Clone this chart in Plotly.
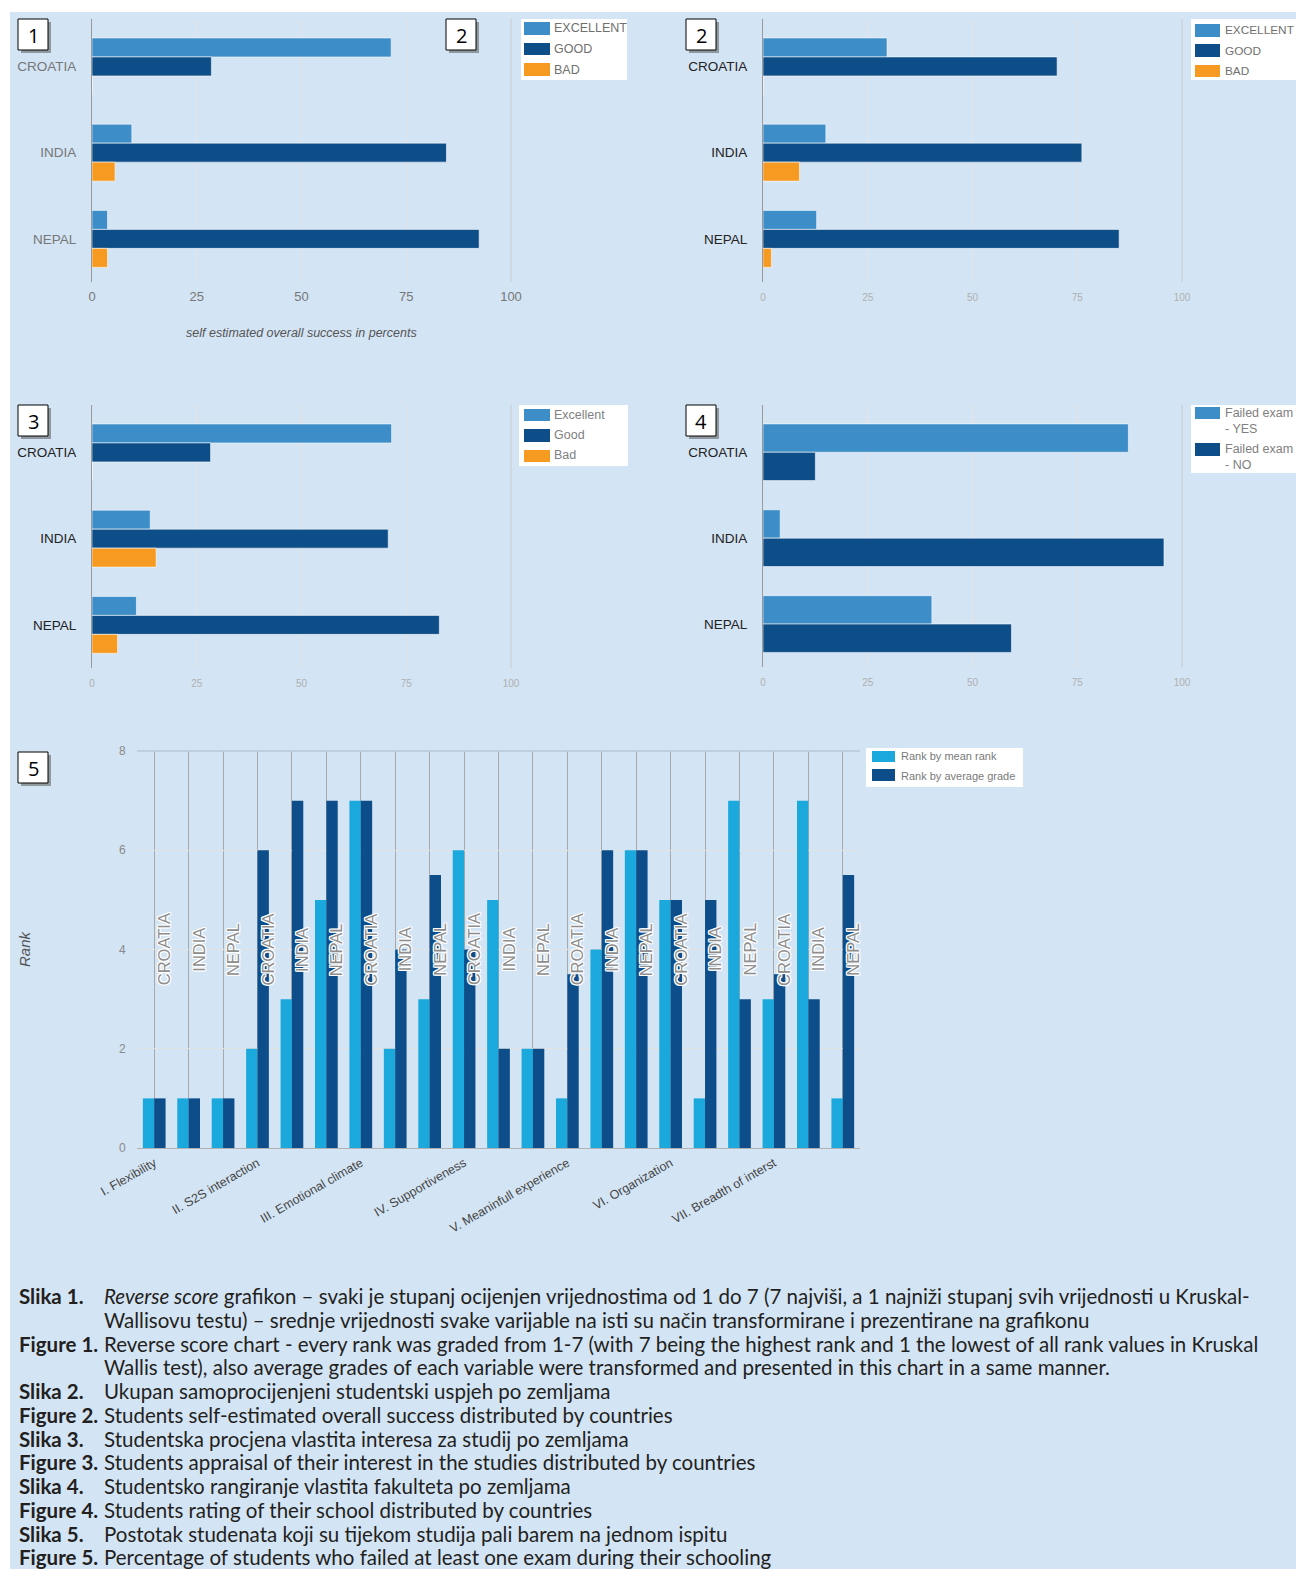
import plotly.graph_objects as go

W, H = 1296, 1569

# ---------------- DATA ----------------
countries = ["CROATIA", "INDIA", "NEPAL"]

p1_names = ["EXCELLENT", "GOOD", "BAD"]
p1_excellent = [71.4, 9.5, 3.7]
p1_good = [28.5, 84.6, 92.4]
p1_bad = [0, 5.5, 3.7]

p2_names = ["EXCELLENT", "GOOD", "BAD"]
p2_excellent = [29.6, 15.0, 12.8]
p2_good = [70.2, 76.1, 85.0]
p2_bad = [0, 8.7, 2.0]

p3_names = ["Excellent", "Good", "Bad"]
p3_excellent = [71.5, 13.9, 10.6]
p3_good = [28.3, 70.7, 82.9]
p3_bad = [0, 15.3, 6.1]

p4_names = ["Failed exam<br>- YES", "Failed exam<br>- NO"]
p4_yes = [87.2, 4.1, 40.3]
p4_no = [12.5, 95.7, 59.3]

pct_ticks = [0, 25, 50, 75, 100]

p5_groups = ["I. Flexibility", "II. S2S interaction", "III. Emotional climate",
             "IV. Supportiveness", "V. Meaninfull experience", "VI. Organization",
             "VII. Breadth of interst"]
p5_countries = countries * 7
p5_names = ["Rank by mean rank", "Rank by average grade"]
rank_mean = [1, 1, 1, 2, 3, 5, 7, 2, 3, 6, 5, 2, 1, 4, 6, 5, 1, 7, 3, 7, 1]
rank_grade = [1, 1, 1, 6, 7, 7, 7, 4, 5.5, 4, 2, 2, 3.5, 6, 6, 5, 5, 3, 3.5, 3, 5.5]
rank_ticks = [0, 2, 4, 6, 8]
label_level = 4

captions = [
    ("Slika 1.", "<i>Reverse score</i> grafikon – svaki je stupanj ocijenjen vrijednostima od 1 do 7 (7 najviši, a 1 najniži stupanj svih vrijednosti u Kruskal-"),
    ("", "Wallisovu testu) – srednje vrijednosti svake varijable na isti su način transformirane i prezentirane na grafikonu"),
    ("Figure 1.", "Reverse score chart - every rank was graded from 1-7 (with 7 being the highest rank and 1 the lowest of all rank values in Kruskal"),
    ("", "Wallis test), also average grades of each variable were transformed and presented in this chart in a same manner."),
    ("Slika 2.", "Ukupan samoprocijenjeni studentski uspjeh po zemljama"),
    ("Figure 2.", "Students self-estimated overall success distributed by countries"),
    ("Slika 3.", "Studentska procjena vlastita interesa za studij po zemljama"),
    ("Figure 3.", "Students appraisal of their interest in the studies distributed by countries"),
    ("Slika 4.", "Studentsko rangiranje vlastita fakulteta po zemljama"),
    ("Figure 4.", "Students rating of their school distributed by countries"),
    ("Slika 5.", "Postotak studenata koji su tijekom studija pali barem na jednom ispitu"),
    ("Figure 5.", "Percentage of students who failed at least one exam during their schooling"),
]

# ---------------- STYLE ----------------
C_EXC = "#3d8dc8"
C_GOOD = "#0d4d88"
C_BAD = "#f79a22"
C_LIGHT = "#1ba8dc"
C_DARK = "#0d4d89"
BG = "#d3e4f4"
FONT = "Liberation Sans, Arial, sans-serif"


def px(x):
    return x / W


def py(y):
    return 1 - y / H


fig = go.Figure()


def hbar(name, vals, color, ax):
    fig.add_trace(go.Bar(
        y=countries, x=vals, name=name, orientation="h",
        marker=dict(color=color, line=dict(color="rgba(255,255,255,0.55)", width=1)),
        xaxis="x" + ax, yaxis="y" + ax, showlegend=False))


hbar(p1_names[0], p1_excellent, C_EXC, "")
hbar(p1_names[1], p1_good, C_GOOD, "")
hbar(p1_names[2], p1_bad, C_BAD, "")
hbar(p2_names[0], p2_excellent, C_EXC, "2")
hbar(p2_names[1], p2_good, C_GOOD, "2")
hbar(p2_names[2], p2_bad, C_BAD, "2")
hbar(p3_names[0], p3_excellent, C_EXC, "3")
hbar(p3_names[1], p3_good, C_GOOD, "3")
hbar(p3_names[2], p3_bad, C_BAD, "3")
hbar(p4_names[0], p4_yes, C_EXC, "4")
hbar(p4_names[1], p4_no, C_GOOD, "4")

xs5 = list(range(len(p5_countries)))
fig.add_trace(go.Bar(x=xs5, y=rank_mean, name=p5_names[0], marker=dict(color=C_LIGHT, line=dict(width=0)),
                     xaxis="x5", yaxis="y5", showlegend=False))
fig.add_trace(go.Bar(x=xs5, y=rank_grade, name=p5_names[1], marker=dict(color=C_DARK, line=dict(width=0)),
                     xaxis="x5", yaxis="y5", showlegend=False))

# ---------------- AXES ----------------
panels = {
    "": (92, 511, 19, 282, "#777777", 13.5, "#777777", 13, 2),
    "2": (763, 1182, 19, 282, "#222222", 13.5, "#b0b0b0", 10, 6),
    "3": (92, 511, 405, 668, "#222222", 13.5, "#b0b0b0", 10, 6),
    "4": (763, 1182, 405, 667, "#222222", 13.5, "#b0b0b0", 10, 6),
}
lay = {}
for ax, (l, r, t, b, ycol, ysz, xcol, xsz, xtl) in panels.items():
    anchor = "y" + ax
    lay["xaxis" + ax] = dict(domain=[px(l), px(r)], anchor=anchor, range=[0, 100], tickvals=pct_ticks,
                             showgrid=True, gridcolor="#e3e3e3", zeroline=False, showline=False,
                             ticks="outside", ticklen=xtl, tickcolor="rgba(0,0,0,0)",
                             tickfont=dict(family=FONT, size=xsz, color=xcol), fixedrange=True)
    lay["yaxis" + ax] = dict(domain=[py(b), py(t)], anchor="x" + ax, type="category",
                             range=[2.5, -0.55], showgrid=False, zeroline=False,
                             showline=True, linecolor="#999999", linewidth=1,
                             ticks="outside", ticklen=12, tickcolor="rgba(0,0,0,0)",
                             tickfont=dict(family=FONT, size=ysz, color=ycol), fixedrange=True)

tt5 = [p5_groups[i // 3] if i % 3 == 0 else "" for i in xs5]
lay["xaxis5"] = dict(domain=[px(137), px(860)], anchor="y5", range=[-0.5, 20.5],
                     tickvals=xs5, ticktext=tt5, tickangle=-30,
                     showgrid=True, gridcolor="#a9a9a9", gridwidth=1, zeroline=False,
                     showline=True, linecolor="#b3b3b3", ticks="outside", ticklen=2,
                     tickcolor="rgba(0,0,0,0)",
                     tickfont=dict(family=FONT, size=12.5, color="#444444"), fixedrange=True)
lay["yaxis5"] = dict(domain=[py(1148), py(751)], anchor="x5", range=[0, 8], tickvals=rank_ticks,
                     showgrid=True, gridcolor="#e2e2e2", zeroline=False, showline=False,
                     ticks="outside", ticklen=8, tickcolor="rgba(0,0,0,0)",
                     tickfont=dict(family=FONT, size=12, color="#8a8a8a"), fixedrange=True)

shapes = []
annotations = []

# background
shapes.append(dict(type="rect", xref="paper", yref="paper", x0=px(10), x1=1.01, y0=-0.01, y1=py(12),
                   fillcolor=BG, line=dict(width=0), layer="below"))

# right border lines on percent panels and top line on panel 5
for ax in ["", "2", "3", "4"]:
    shapes.append(dict(type="line", xref="x" + ax + " domain", yref="y" + ax + " domain",
                       x0=1, x1=1, y0=0, y1=1, line=dict(color="#c9c9c9", width=1)))
shapes.append(dict(type="line", xref="x5 domain", yref="y5 domain", x0=0, x1=1, y0=1, y1=1,
                   line=dict(color="#b7c9dd", width=1.5)))


def numbox(x0, y0, label):
    shapes.append(dict(type="rect", xref="paper", yref="paper", x0=px(x0 + 3), x1=px(x0 + 33),
                       y0=py(y0 + 34), y1=py(y0 + 3), fillcolor="rgba(90,90,90,0.55)", line=dict(width=0)))
    shapes.append(dict(type="rect", xref="paper", yref="paper", x0=px(x0), x1=px(x0 + 30),
                       y0=py(y0 + 31), y1=py(y0), fillcolor="white", line=dict(color="black", width=1)))
    annotations.append(dict(xref="paper", yref="paper", x=px(x0 + 15), y=py(y0 + 16), text=label,
                            showarrow=False, xanchor="center", yanchor="middle",
                            font=dict(family="Open Sans, sans-serif", size=20, color="black")))


numbox(18, 19, "1")
numbox(446, 19, "2")
numbox(686, 19, "2")
numbox(18, 405, "3")
numbox(686, 405, "4")
numbox(18, 752, "5")


def legend(box, items, sw_x0, sw_x1, tx, size, color):
    bx0, by0, bx1, by1 = box
    shapes.append(dict(type="rect", xref="paper", yref="paper", x0=px(bx0), x1=px(bx1),
                       y0=py(by1), y1=py(by0), fillcolor="white", line=dict(width=0)))
    for col, text, sy0, sy1, ty in items:
        shapes.append(dict(type="rect", xref="paper", yref="paper", x0=px(sw_x0), x1=px(sw_x1),
                           y0=py(sy1), y1=py(sy0), fillcolor=col, line=dict(width=0)))
        annotations.append(dict(xref="paper", yref="paper", x=px(tx), y=py(ty), text=text,
                                showarrow=False, xanchor="left", yanchor="middle", align="left",
                                font=dict(family=FONT, size=size, color=color)))


legend((521, 19, 627, 80), [(C_EXC, p1_names[0], 22, 35, 28.5), (C_GOOD, p1_names[1], 43, 55, 49),
                            (C_BAD, p1_names[2], 63, 76, 69.5)], 524, 550, 552, 12.5, "#707070")
legend((1191, 19, 1300, 80), [(C_EXC, p2_names[0], 24, 37, 30), (C_GOOD, p2_names[1], 44, 57, 50.5),
                              (C_BAD, p2_names[2], 65, 77, 71)], 1195, 1220, 1223, 11.8, "#707070")
legend((519, 405, 628, 466), [(C_EXC, p3_names[0], 409, 421, 414.5), (C_GOOD, p3_names[1], 429, 442, 435),
                              (C_BAD, p3_names[2], 450, 462, 455.5)], 524, 550, 552, 12.5, "#808080")
legend((1191, 405, 1300, 473), [(C_EXC, p4_names[0], 407, 419, 421), (C_GOOD, p4_names[1], 443, 456, 457)],
       1195, 1220, 1223, 12.5, "#808080")
legend((866, 748, 1023, 787), [(C_LIGHT, p5_names[0], 751, 762, 756.5), (C_DARK, p5_names[1], 769, 781, 775.5)],
       872, 895, 899, 11, "#7a7a7a")

# panel 1 x-axis title
annotations.append(dict(xref="paper", yref="paper", x=px(301.5), y=py(333), text="<i>self estimated overall success in percents</i>",
                        showarrow=False, xanchor="center", yanchor="middle",
                        font=dict(family=FONT, size=12.5, color="#555555")))
# panel 5 y-axis title
annotations.append(dict(xref="paper", yref="paper", x=px(25), y=py(949), text="<i>Rank</i>", textangle=-90,
                        showarrow=False, xanchor="center", yanchor="middle",
                        font=dict(family=FONT, size=15, color="#555555")))

# country labels inside panel 5
halo = "1px 0 0 #fff, -1px 0 0 #fff, 0 1px 0 #fff, 0 -1px 0 #fff, 1px 1px 0 #fff, -1px -1px 0 #fff, 1px -1px 0 #fff, -1px 1px 0 #fff"
for i, c in enumerate(p5_countries):
    annotations.append(dict(xref="x5", yref="y5", x=xs5[i], y=label_level, text=c, textangle=-90,
                            showarrow=False, xanchor="center", yanchor="middle", xshift=9.5,
                            font=dict(family=FONT, size=16.5, color="#8e8e8e", shadow=halo)))

# captions
CAP_FONT = "Lato, 'Open Sans', sans-serif"
for k, (lab, body) in enumerate(captions):
    yy = 1296 + 23.75 * k
    if lab:
        annotations.append(dict(xref="paper", yref="paper", x=px(17), y=py(yy), text="<b>" + lab + "</b>",
                                showarrow=False, xanchor="left", yanchor="middle",
                                font=dict(family=CAP_FONT, size=20.5, color="#231f20")))
    annotations.append(dict(xref="paper", yref="paper", x=px(102), y=py(yy), text=body,
                            showarrow=False, xanchor="left", yanchor="middle",
                            font=dict(family=CAP_FONT, size=20.5, color="#231f20")))

fig.update_layout(
    width=W, height=H, margin=dict(l=0, r=0, t=0, b=0, autoexpand=False),
    paper_bgcolor="white", plot_bgcolor="white",
    barmode="group", bargap=0.34, bargroupgap=0,
    showlegend=False, shapes=shapes, annotations=annotations,
    font=dict(family=FONT), **lay)

fig.write_html("out.html", config={"displayModeBar": False},
               post_script="document.body.style.margin='0';document.body.style.overflow='hidden';")
